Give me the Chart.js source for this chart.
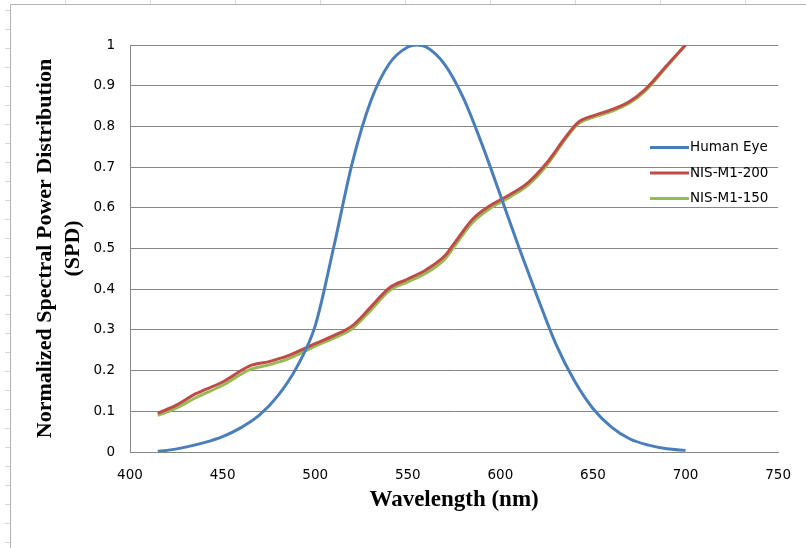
<!DOCTYPE html>
<html>
<head>
<meta charset="utf-8">
<script src="https://cdn.jsdelivr.net/npm/chart.js@4.4.0/dist/chart.umd.min.js"></script>
<style>
  html, body { margin: 0; padding: 0; background: #fff; }
  #wrap { width: 806px; height: 548px; position: relative; }
</style>
</head>
<body>
<div id="wrap"><canvas id="spd"></canvas></div>
<script>
// wavelengths (nm) and values
const eyeNm = [415, 420, 430, 440, 450, 460, 470, 480, 490, 500, 510, 520, 530, 540, 550, 555, 560, 570, 580, 590, 600, 610, 620, 630, 640, 650, 660, 670, 680, 690, 700];
const humanEye = [0.002, 0.004, 0.012, 0.023, 0.038, 0.06, 0.091, 0.139, 0.208, 0.31, 0.503, 0.71, 0.862, 0.954, 0.995, 1.0, 0.995, 0.952, 0.87, 0.757, 0.631, 0.503, 0.381, 0.265, 0.175, 0.107, 0.061, 0.032, 0.017, 0.008, 0.004];

const nisNm = [415, 425, 435, 450, 465, 475, 485, 495, 500, 510, 520, 530, 540, 550, 560, 570, 575, 585, 595, 605, 615, 625, 635, 642, 650, 660, 670, 678, 690, 700];
const nis200 = [0.095, 0.115, 0.142, 0.172, 0.212, 0.222, 0.236, 0.256, 0.266, 0.286, 0.31, 0.356, 0.403, 0.425, 0.448, 0.482, 0.512, 0.572, 0.607, 0.632, 0.662, 0.71, 0.772, 0.81, 0.826, 0.841, 0.862, 0.89, 0.95, 1.0];
const nis150 = [0.09, 0.108, 0.132, 0.164, 0.203, 0.214, 0.228, 0.249, 0.26, 0.28, 0.303, 0.348, 0.396, 0.418, 0.44, 0.474, 0.504, 0.564, 0.6, 0.626, 0.656, 0.704, 0.768, 0.806, 0.822, 0.837, 0.858, 0.886, 0.948, 1.0];

const yTicks = [0, 0.1, 0.2, 0.3, 0.4, 0.5, 0.6, 0.7, 0.8, 0.9, 1];
const xTicks = [400, 450, 500, 550, 600, 650, 700, 750];

const pts = (xs, ys) => xs.map((x, i) => ({x: x, y: ys[i]}));

// sheet border + legend drawn over the plot, Excel style
const extras = {
    id: 'extras',
    beforeDraw(chart) {
        const c = chart.ctx;
        c.save();
        c.strokeStyle = '#b4b4b4';
        c.lineWidth = 1;
        c.beginPath();
        c.moveTo(10.5, 548);
        c.lineTo(10.5, 4.5);
        c.lineTo(806, 4.5);
        c.stroke();
        c.strokeStyle = '#d8d8d8';
        c.beginPath();
        for (let y = 10; y < 548; y += 19) { c.moveTo(5, y + 0.5); c.lineTo(10, y + 0.5); }
        for (let x = 65; x < 806; x += 85) { c.moveTo(x + 0.5, 0); c.lineTo(x + 0.5, 4); }
        c.stroke();
        c.restore();
    },
    afterDraw(chart) {
        const c = chart.ctx;
        c.save();
        c.font = '13.5px "DejaVu Sans"';
        c.textBaseline = 'middle';
        chart.data.datasets.forEach((ds, i) => {
            const y = 147.5 + i * 25.5;
            c.strokeStyle = ds.borderColor;
            c.lineWidth = 3;
            c.beginPath();
            c.moveTo(650, y);
            c.lineTo(689, y);
            c.stroke();
            c.fillStyle = '#000';
            c.fillText(ds.label, 690, y);
        });
        c.restore();
    }
};

const ctx = document.getElementById('spd').getContext('2d');
new Chart(ctx, {
    type: 'line',
    data: {
        datasets: [
            {label: 'Human Eye', data: pts(eyeNm, humanEye), borderColor: '#4a7ebb'},
            {label: 'NIS-M1-200', data: pts(nisNm, nis200), borderColor: '#be4b48'},
            {label: 'NIS-M1-150', data: pts(nisNm, nis150), borderColor: '#98b954'}
        ]
    },
    options: {
        responsive: true,
        maintainAspectRatio: false,
        animation: false,
        layout: {padding: {top: 45, right: 23, left: 0, bottom: 0}},
        elements: {
            line: {borderWidth: 3, tension: 0.4, cubicInterpolationMode: 'monotone', fill: false},
            point: {radius: 0}
        },
        plugins: {legend: {display: false}, tooltip: {enabled: false}},
        scales: {
            x: {
                type: 'linear', min: 400, max: 750,
                afterBuildTicks: (s) => { s.ticks = xTicks.map(v => ({value: v})); },
                afterFit: (s) => { s.height = 96; },
                grid: {display: false, drawTicks: false},
                border: {display: true, color: '#868686', width: 1},
                ticks: {color: '#000', padding: 15, maxRotation: 0, font: {family: 'DejaVu Sans', size: 13.5}},
                title: {
                    display: true, text: 'Wavelength (nm)', color: '#000',
                    padding: {top: 0, bottom: 34},
                    font: {family: 'Liberation Serif', size: 23, weight: 'bold'}
                }
            },
            y: {
                min: 0, max: 1,
                afterBuildTicks: (s) => { s.ticks = yTicks.map(v => ({value: v})); },
                afterFit: (s) => { s.width = 130; },
                grid: {color: '#868686', lineWidth: 1, drawTicks: false},
                border: {display: true, color: '#868686', width: 1},
                ticks: {
                    color: '#000', padding: 15, font: {family: 'DejaVu Sans', size: 13.5},
                    callback: (v) => String(Math.round(v * 10) / 10)
                },
                title: {
                    display: true, text: ['Normalized Spectral Power Distribution', '(SPD)'], color: '#000',
                    padding: {top: 31, bottom: 0},
                    font: {family: 'Liberation Serif', size: 22, weight: 'bold', lineHeight: 1.27}
                }
            }
        }
    },
    plugins: [extras]
});
</script>
</body>
</html>
